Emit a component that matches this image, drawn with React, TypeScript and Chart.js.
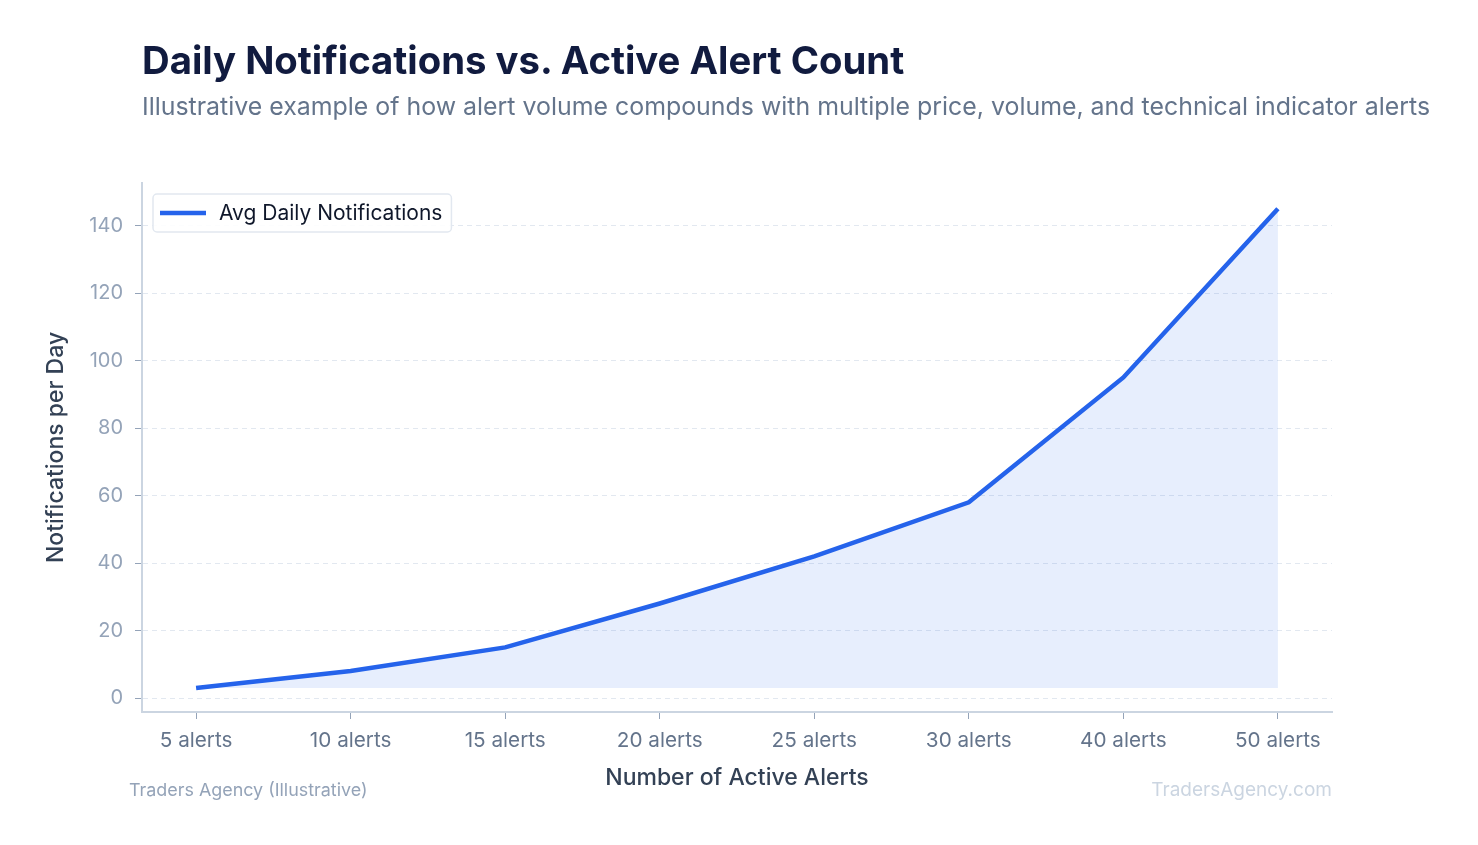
import React, { useEffect, useRef } from 'react';
import { Chart, registerables } from 'chart.js';

Chart.register(...registerables);

const alertCounts = ['5 alerts', '10 alerts', '15 alerts', '20 alerts', '25 alerts', '30 alerts', '40 alerts', '50 alerts'];
const avgDailyNotifications = [3, 8, 15, 28, 42, 58, 95, 145];
const yTickValues = [0, 20, 40, 60, 80, 100, 120, 140];

const FONT = 'Inter, "Noto Sans", sans-serif';

// legend box drawn inside the plot area, top-left
const insideLegend = {
  id: 'insideLegend',
  afterDraw(chart: any) {
    const { ctx, chartArea } = chart;
    const label = chart.data.datasets[0].label;
    const color = chart.data.datasets[0].borderColor;
    ctx.save();
    ctx.font = `21px ${FONT}`;
    const textW = ctx.measureText(label).width;
    const x = chartArea.left + 11;
    const y = chartArea.top + 11;
    const w = 66 + textW + 9;
    const h = 38;
    ctx.beginPath();
    ctx.roundRect(x, y, w, h, 4);
    ctx.fillStyle = 'rgba(255,255,255,0.9)';
    ctx.fill();
    ctx.lineWidth = 1.5;
    ctx.strokeStyle = '#e2e8f0';
    ctx.stroke();
    ctx.beginPath();
    ctx.moveTo(x + 7, y + h / 2);
    ctx.lineTo(x + 53, y + h / 2);
    ctx.lineWidth = 4.5;
    ctx.strokeStyle = color;
    ctx.stroke();
    ctx.fillStyle = '#0f172a';
    ctx.textBaseline = 'middle';
    ctx.fillText(label, x + 66, y + h / 2 + 1);
    ctx.restore();
  },
};

const NotificationsChart: React.FC = () => {
  const chartRef = useRef<HTMLCanvasElement>(null);
  const chartInstance = useRef<Chart | null>(null);

  useEffect(() => {
    if (!chartRef.current) return;
    if (chartInstance.current) chartInstance.current.destroy();
    const ctx = chartRef.current.getContext('2d');
    if (!ctx) return;

    chartInstance.current = new Chart(ctx, {
      type: 'line',
      data: {
        datasets: [
          {
            label: 'Avg Daily Notifications',
            data: avgDailyNotifications.map((v, i) => ({ x: i, y: v })),
            borderColor: '#2563eb',
            borderWidth: 4.5,
            backgroundColor: 'rgba(37, 99, 235, 0.11)',
            fill: { value: avgDailyNotifications[0] },
            pointRadius: 0,
            tension: 0,
          },
        ],
      },
      options: {
        animation: false,
        responsive: false,
        maintainAspectRatio: false,
        layout: { padding: { left: 42, top: 183, right: 146, bottom: 53 } },
        plugins: {
          legend: { display: false },
          tooltip: { enabled: false },
        },
        scales: {
          x: {
            type: 'linear',
            min: -0.35,
            max: alertCounts.length - 1 + 0.35,
            afterBuildTicks: (scale: any) => {
              scale.ticks = alertCounts.map((_, i) => ({ value: i }));
            },
            afterFit: (scale: any) => {
              scale.height = 80;
            },
            ticks: {
              callback: (v: any) => alertCounts[v] ?? '',
              color: '#64748b',
              font: { family: FONT, size: 20.7 },
              padding: 9,
              maxRotation: 0,
              autoSkip: false,
            },
            grid: { drawOnChartArea: false, drawTicks: true, tickLength: 7, tickColor: '#94a3b8', tickWidth: 1 },
            border: { display: true, color: '#cbd5e1', width: 2 },
            title: {
              display: true,
              text: 'Number of Active Alerts',
              color: '#334155',
              font: { family: FONT, size: 23, weight: 500 },
              padding: 0,
            },
          },
          y: {
            min: -4.14,
            max: 152.6,
            afterBuildTicks: (scale: any) => {
              scale.ticks = yTickValues.map(v => ({ value: v }));
            },
            afterFit: (scale: any) => {
              scale.width = 100;
            },
            ticks: {
              color: '#94a3b8',
              font: { family: FONT, size: 20 },
              padding: 12,
            },
            grid: { color: '#e2e8f0', lineWidth: 1, drawTicks: true, tickLength: 7, tickColor: '#94a3b8', tickWidth: 1 },
            border: { display: true, color: '#cbd5e1', width: 2, dash: [5, 4] },
            title: {
              display: true,
              text: 'Notifications per Day',
              color: '#334155',
              font: { family: FONT, size: 23, weight: 500 },
              padding: 0,
            },
          },
        },
      },
      plugins: [insideLegend],
    });

    return () => {
      if (chartInstance.current) {
        chartInstance.current.destroy();
        chartInstance.current = null;
      }
    };
  }, []);

  return <canvas ref={chartRef} width={1478} height={845} style={{ position: 'absolute', left: 0, top: 0, width: '1478px', height: '845px' }} />;
};

const App: React.FC = () => {
  useEffect(() => {
    document.body.style.margin = '0';
  }, []);

  return (
    <div style={{ position: 'relative', width: '1478px', height: '845px', background: '#ffffff', fontFamily: FONT, overflow: 'hidden' }}>
      <NotificationsChart />
      <div style={{ position: 'absolute', left: '142px', top: '41px', fontSize: '38.3px', lineHeight: 1, fontWeight: 700, color: '#111b3f', whiteSpace: 'nowrap' }}>
        Daily Notifications vs. Active Alert Count
      </div>
      <div style={{ position: 'absolute', left: '142px', top: '94px', fontSize: '24.9px', lineHeight: 1, color: '#64748b', whiteSpace: 'nowrap' }}>
        Illustrative example of how alert volume compounds with multiple price, volume, and technical indicator alerts
      </div>
      {/* footer */}
      <div style={{ position: 'absolute', left: '129px', top: '781px', fontSize: '17.9px', lineHeight: 1, color: '#94a3b8', whiteSpace: 'nowrap' }}>
        Traders Agency (Illustrative)
      </div>
      <div style={{ position: 'absolute', right: '146px', top: '780px', fontSize: '19px', lineHeight: 1, color: '#cbd5e1', whiteSpace: 'nowrap' }}>
        TradersAgency.com
      </div>
    </div>
  );
};

export default App;
